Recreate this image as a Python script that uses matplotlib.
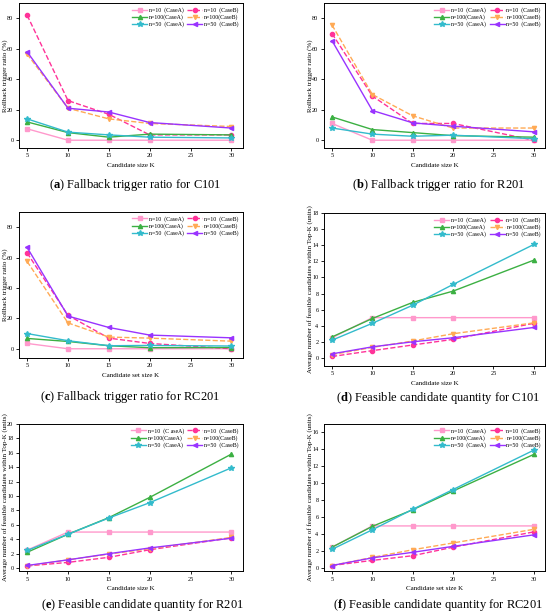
import matplotlib
matplotlib.use("Agg")
import matplotlib.pyplot as plt

plt.rcParams['font.family'] = ['Liberation Serif', 'DejaVu Serif']
plt.rcParams['mathtext.fontset'] = 'custom'
plt.rcParams['mathtext.rm'] = 'Liberation Serif'
plt.rcParams['mathtext.bf'] = 'Liberation Serif:bold'

K = [5, 10, 15, 20, 30]
series_labels = ["n=10  (CaseA)", "n=10  (CaseB)", "n=100(CaseA)", "n=100(CaseB)",
                 "n=50  (CaseA)", "n=50  (CaseB)"]

# (a) C101 rollback ratio
a_10A = [7.5, 0, 0, 0, 0]
a_10B = [82, 26, 17, 3.5, 3.5]
a_100A = [12, 5, 2, 4, 3.5]
a_100B = [56.5, 21, 14, 11, 9]
a_50A = [14, 5.3, 3.5, 2, 1.5]
a_50B = [58, 21, 18.5, 11.6, 8]

# (b) R201 rollback ratio
b_10A = [11, 0, 0, 0, 0]
b_10B = [70, 29, 11, 11, 0]
b_100A = [15.3, 7, 5, 3, 2]
b_100B = [75.6, 30, 16, 8, 8]
b_50A = [8, 4, 2.6, 3.3, 1]
b_50B = [65.3, 19.5, 11.4, 9.2, 5.5]

# (c) RC201 rollback ratio
c_10A = [3.5, 0, 0, 0, 0]
c_10B = [63, 22, 7, 3.5, 0]
c_100A = [6.8, 4.8, 2, 0.7, 0.8]
c_100B = [57.4, 17, 7.7, 7, 5]
c_50A = [10, 5.3, 2, 2.2, 1.8]
c_50B = [66.6, 21.5, 14, 9, 7.2]

# (d) C101 feasible count
d_10A = [2.5, 5, 5, 5, 5]
d_10B = [0.17, 0.9, 1.6, 2.3, 4.3]
d_100A = [2.6, 4.9, 6.9, 8.3, 12.15]
d_100B = [0.4, 1.3, 2.1, 3.0, 4.35]
d_50A = [2.2, 4.3, 6.55, 9.13, 14.1]
d_50B = [0.5, 1.37, 2.0, 2.5, 3.78]

# (e) R201 feasible count
e_10A = [2.5, 5, 5, 5, 5]
e_10B = [0.3, 0.8, 1.5, 2.55, 4.2]
e_100A = [2.2, 4.7, 7.0, 9.8, 15.8]
e_100B = [0.3, 1.15, 1.95, 2.7, 4.25]
e_50A = [2.45, 4.7, 6.95, 9.07, 13.9]
e_50B = [0.37, 1.15, 2.0, 2.8, 4.15]

# (f) RC201 feasible count
f_10A = [2.5, 5, 5, 5, 5]
f_10B = [0.35, 0.95, 1.5, 2.5, 4.3]
f_100A = [2.5, 4.95, 6.9, 9.1, 13.4]
f_100B = [0.35, 1.3, 2.2, 3.0, 4.6]
f_50A = [2.25, 4.55, 6.95, 9.28, 13.9]
f_50B = [0.35, 1.25, 1.9, 2.6, 3.95]

colors = ["#ff99cc", "#ff3399", "#3cb043", "#ffaa55", "#33bbcc", "#9933ff"]
markers = ["s", "o", "^", "v", "*", "<"]
styles = ["-", "--", "-", "--", "-", "-"]

ylab1 = "Rollback trigger ratio (%)"
ylab2 = "Average number of feasible candidates within Top-K (units)"

panels = [
    dict(data=[a_10A, a_10B, a_100A, a_100B, a_50A, a_50B], pos=[0.0345, 0.760, 0.407, 0.235],
         ylim=(-5, 90), yticks=[0, 20, 40, 60, 80], xl="Candidate size K", yl=ylab1,
         cap=("a", "Fallback trigger ratio for C101"), capxy=(135, 185)),
    dict(data=[b_10A, b_10B, b_100A, b_100B, b_50A, b_50B], pos=[0.589, 0.760, 0.402, 0.235],
         ylim=(-5, 90), yticks=[0, 20, 40, 60, 80], xl="Candidate size K", yl=ylab1,
         cap=("b", "Fallback trigger ratio for R201"), capxy=(439, 185)),
    dict(data=[c_10A, c_10B, c_100A, c_100B, c_50A, c_50B], pos=[0.0345, 0.419, 0.407, 0.237],
         ylim=(-6, 90), yticks=[0, 20, 40, 60, 80], xl="Candidate set size K", yl=ylab1,
         cap=("c", "Fallback trigger ratio for RC201"), capxy=(130, 397)),
    dict(data=[d_10A, d_10B, d_100A, d_100B, d_50A, d_50B], pos=[0.589, 0.406, 0.402, 0.248],
         ylim=(-1, 18), yticks=list(range(0, 19, 2)), xl="Candidate size K", yl=ylab2,
         cap=("d", "Feasible candidate quantity for C101"), capxy=(438, 398)),
    dict(data=[e_10A, e_10B, e_100A, e_100B, e_50A, e_50B], pos=[0.0345, 0.073, 0.407, 0.239],
         ylim=(-0.4, 20), yticks=list(range(0, 21, 2)), xl="Candidate size K", yl=ylab2,
         cap=("e", "Feasible candidate quantity for R201"), capxy=(142, 605)),
    dict(data=[f_10A, f_10B, f_100A, f_100B, f_50A, f_50B], pos=[0.589, 0.073, 0.402, 0.239],
         ylim=(-0.3, 17), yticks=list(range(0, 17, 2)), xl="Candidate set size K", yl=ylab2,
         cap=("f", "Feasible candidate quantity for RC201"), capxy=(438, 605)),
]

W, H = 550, 616
fig = plt.figure(figsize=(W / 100, H / 100), dpi=100)

for idx, p in enumerate(panels):
    ax = fig.add_axes(p["pos"])
    handles = []
    for i, ys in enumerate(p["data"]):
        ms = 4.2 if markers[i] == "*" else 3.0
        h, = ax.plot(K, ys, color=colors[i], marker=markers[i], linestyle=styles[i],
                     linewidth=1.0, markersize=ms, label=series_labels[i])
        handles.append(h)
    ax.set_xlim(4.0, 31.4)
    ax.set_ylim(*p["ylim"])
    ax.set_xticks([5, 10, 15, 20, 25, 30])
    ax.set_yticks(p["yticks"])
    ax.tick_params(labelsize=4.5, length=2, width=0.6, pad=2)
    for s in ax.spines.values():
        s.set_linewidth(0.7)
    ax.set_xlabel(p["xl"], fontsize=5, labelpad=3)
    ax.set_ylabel(p["yl"], fontsize=5)
    axw_px = p["pos"][2] * W
    ax.yaxis.set_label_coords(-10.5 / axw_px, 0.5)
    labels = list(series_labels)
    if idx == 4:
        labels[0] = "n=10  (C aseA)"
    order = [0, 2, 4, 1, 3, 5]
    ax.legend([handles[j] for j in order], [labels[j] for j in order], ncol=2,
              loc="upper right", frameon=False, fontsize=4.2, handlelength=2.6,
              columnspacing=0.6, handletextpad=0.3, labelspacing=0.25,
              borderaxespad=0.3)
    letter, rest = p["cap"]
    cx, cy = p["capxy"]
    fig.text(cx / W, 1 - cy / H, r"($\mathbf{" + letter + r"}$) " + rest,
             ha="center", va="center", fontsize=9)

fig.savefig("out.png", dpi=100)
